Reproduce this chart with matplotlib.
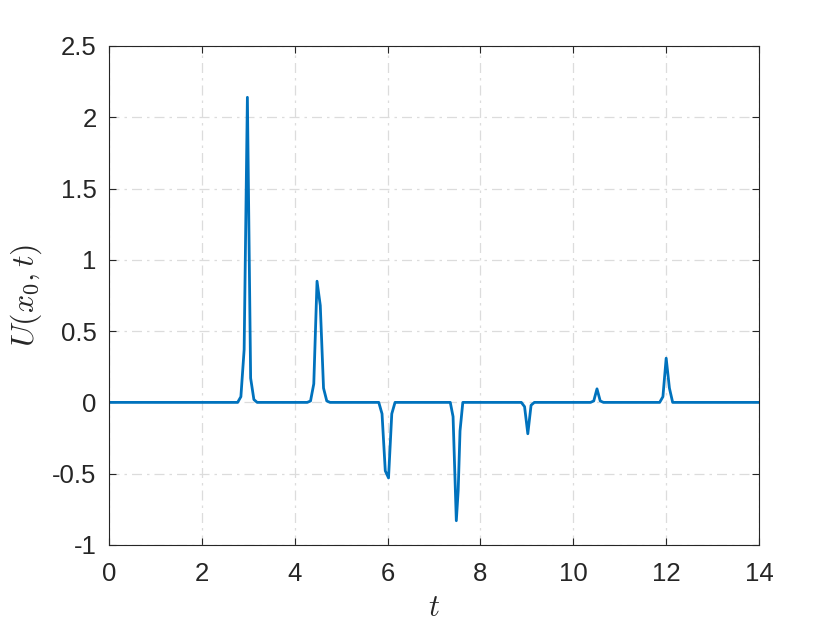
import matplotlib
matplotlib.use("Agg")
import matplotlib.pyplot as plt

# sampled signal U(x0, t): flat zero except for narrow pulses
t = [0.0, 2.77, 2.84, 2.91, 2.98, 3.05, 3.12, 3.19,
     4.27, 4.34, 4.41, 4.48, 4.55, 4.62, 4.69, 4.76,
     5.81, 5.88, 5.95, 6.02, 6.09, 6.16,
     7.35, 7.41, 7.48, 7.52, 7.56, 7.62,
     8.88, 8.95, 9.02, 9.09, 9.16,
     10.37, 10.44, 10.51, 10.58, 10.65,
     11.86, 11.93, 12.00, 12.07, 12.14,
     14.0]
U = [0.0, 0.0, 0.04, 0.37, 2.14, 0.17, 0.02, 0.0,
     0.0, 0.01, 0.13, 0.85, 0.68, 0.10, 0.01, 0.0,
     0.0, -0.08, -0.48, -0.53, -0.08, 0.0,
     0.0, -0.10, -0.83, -0.62, -0.20, 0.0,
     0.0, -0.03, -0.22, -0.02, 0.0,
     0.0, 0.01, 0.095, 0.01, 0.0,
     0.0, 0.04, 0.31, 0.10, 0.0,
     0.0]

xticks = [0, 2, 4, 6, 8, 10, 12, 14]
yticks = [-1, -0.5, 0, 0.5, 1, 1.5, 2, 2.5]
ytick_labels = ["-1", "-0.5", "0", "0.5", "1", "1.5", "2", "2.5"]

plt.rcParams["font.family"] = ["Liberation Sans", "DejaVu Sans"]
plt.rcParams["mathtext.fontset"] = "cm"

fig = plt.figure(figsize=(8.4, 6.3), dpi=100)
ax = fig.add_axes([0.1298, 0.135, 0.7738, 0.792])

ax.plot(t, U, color="#0072BD", linewidth=2.0)

ax.set_xlim(0, 14)
ax.set_ylim(-1, 2.5)
ax.set_xticks(xticks)
ax.set_yticks(yticks)
ax.set_yticklabels(ytick_labels)
ax.grid(True, linestyle=(0, (8, 4, 2, 4)), color="#dcdcdc", linewidth=0.9)
ax.set_axisbelow(True)

for sp in ax.spines.values():
    sp.set_color("#262626")
    sp.set_linewidth(0.8)
ax.tick_params(direction="in", top=True, right=True, length=5,
               labelsize=18.5, colors="#262626")
ax.tick_params(axis="x", pad=12)
ax.tick_params(axis="y", pad=9)

ax.set_xlabel("$t$", fontsize=22, color="#262626", labelpad=5)
ax.set_ylabel("$U(x_0,t)$", fontsize=23, color="#262626", labelpad=6)

fig.savefig("out.png", dpi=100)
